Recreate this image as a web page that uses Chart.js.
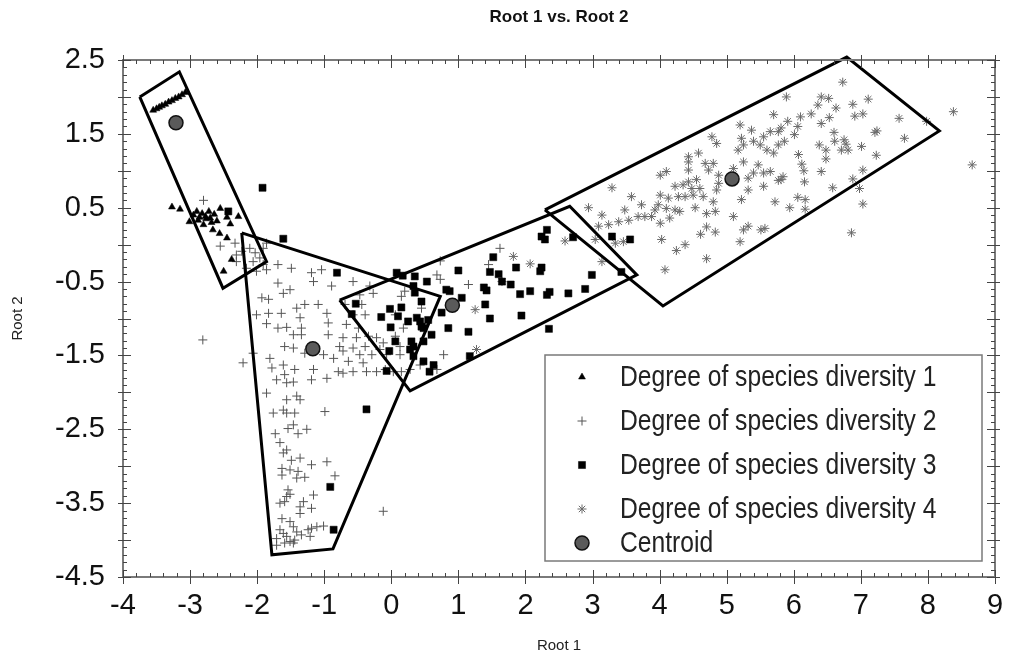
<!DOCTYPE html>
<html>
<head>
<meta charset="utf-8">
<title>Root 1 vs. Root 2</title>
<script src="https://cdn.jsdelivr.net/npm/chart.js@4.4.0/dist/chart.umd.min.js"></script>
<style>
  html, body { margin: 0; padding: 0; background: #fff; }
  #wrap { width: 1016px; height: 660px; }
</style>
</head>
<body>
<div id="wrap"><canvas id="rootChart" width="1016" height="660"></canvas></div>
<script>
const FONT = "'Liberation Sans', Arial, sans-serif";

// discriminant scores [root1, root2] per diversity class
const diversity1 = [
  [-3.55,1.82],[-3.50,1.84],[-3.46,1.86],[-3.42,1.88],[-3.37,1.90],[-3.32,1.93],[-3.27,1.95],[-3.22,1.98],
  [-3.17,2.00],[-3.12,2.03],[-3.07,2.06],
  [-3.27,0.51],[-3.15,0.48],[-3.01,0.31],[-2.95,0.40],[-2.90,0.45],[-2.86,0.37],[-2.82,0.42],[-2.80,0.27],
  [-2.76,0.35],[-2.72,0.45],[-2.88,0.33],[-2.68,0.30],[-2.64,0.41],[-2.60,0.32],[-2.55,0.49],[-2.45,0.37],
  [-2.40,0.28],[-2.28,0.38],[-2.66,0.20],[-2.45,0.09],[-2.56,0.15],[-2.38,-0.20],[-2.50,-0.36],[-2.77,0.38],
  [-2.70,0.36]
];
const diversity2 = [
  [-2.80,0.60],[-2.33,0.02],[-2.23,-0.09],[-2.11,-0.05],[-2.03,-0.11],[-1.96,-0.18],[-2.06,-0.23],[-1.91,-0.27],
  [-1.86,-0.34],[-2.01,-0.36],[-2.16,-0.32],[-2.31,-0.14],[-1.86,0.02],[-1.91,-0.05],[-2.31,-0.23],[-2.55,-0.02],
  [-1.69,-0.27],[-1.49,-0.32],[-1.19,-0.38],[-1.04,-0.34],[-1.16,-0.50],[-0.89,-0.56],[-1.69,-0.52],[-1.51,-0.61],
  [-1.61,-0.66],[-1.93,-0.72],[-1.83,-0.74],[-2.01,-0.95],[-1.83,-0.93],[-1.64,-0.93],[-1.41,-0.86],[-1.29,-0.81],
  [-1.09,-0.81],[-0.96,-0.93],[-1.36,-0.99],[-1.86,-1.07],[-1.69,-1.13],[-1.56,-1.12],[-1.46,-1.22],[-1.34,-1.22],
  [-1.34,-1.13],[-0.94,-1.06],[-0.94,-1.22],[-1.59,-1.38],[-1.46,-1.40],[-1.29,-1.47],[-1.01,-1.49],[-0.86,-1.54],
  [-0.77,-1.38],[-1.81,-1.54],[-2.06,-1.47],[-2.21,-1.60],[-2.81,-1.29],[-1.78,-1.67],[-1.61,-1.63],[-1.59,-1.76],
  [-1.44,-1.69],[-1.71,-1.83],[-1.56,-1.87],[-1.46,-1.86],[-1.16,-1.69],[-1.19,-1.83],[-0.96,-1.81],[-0.79,-1.72],
  [-1.86,-2.01],[-1.56,-2.10],[-1.41,-2.05],[-1.36,-2.10],
  [-1.76,-2.28],[-1.61,-2.24],[-1.56,-2.28],[-1.44,-2.28],[-0.99,-2.26],[-1.46,-2.44],[-1.54,-2.49],[-1.39,-2.56],
  [-1.26,-2.50],[-1.73,-2.56],[-1.66,-2.68],[-1.61,-2.82],[-1.56,-2.78],[-1.49,-2.92],[-1.36,-2.89],[-1.19,-2.98],
  [-0.96,-2.94],[-1.63,-3.03],[-1.51,-3.05],[-1.63,-3.12],[-1.39,-3.07],[-1.41,-3.16],[-1.29,-3.15],[-0.84,-3.13],
  [-1.54,-3.32],[-1.56,-3.41],[-1.51,-3.38],[-1.66,-3.50],[-1.59,-3.48],[-1.31,-3.48],[-1.36,-3.55],[-1.19,-3.57],
  [-1.16,-3.39],[-1.36,-3.64],[-1.63,-3.71],[-1.51,-3.75],[-1.46,-3.82],[-1.66,-3.86],[-1.71,-3.98],[-1.61,-3.91],
  [-1.56,-3.95],[-1.51,-4.02],[-1.44,-4.00],[-1.41,-3.89],[-1.34,-3.93],[-1.21,-3.95],[-1.24,-3.86],[-1.19,-3.84],
  [-1.11,-3.82],[-1.01,-3.81],[-1.71,-4.07],[-1.59,-4.04],[-1.46,-4.04],[-0.12,-3.61],
  [-0.57,-0.50],[-0.32,-0.56],[-0.47,-0.68],[-0.27,-0.66],[-0.69,-0.81],[-0.44,-0.81],[-0.39,-0.95],[-0.57,-0.95],
  [-0.67,-1.08],[-0.49,-1.13],[-0.72,-1.26],[-0.52,-1.26],[-0.34,-1.24],[-0.22,-1.26],[-0.12,-1.33],[-0.39,-1.38],
  [-0.57,-1.40],[-0.72,-1.44],[-0.47,-1.49],[-0.29,-1.49],[-0.17,-1.42],[-0.07,-1.49],[0.13,-1.49],[-0.64,-1.58],
  [-0.42,-1.60],[-0.57,-1.72],[-0.37,-1.72],[-0.22,-1.72],[-0.09,-1.69],[-0.72,-1.74],[0.03,-1.72],[0.15,-1.72],
  [0.28,-1.69],[0.43,-1.63],[0.68,-1.69],[0.15,-0.70],[0.20,-0.63],[0.45,-0.86],[0.06,-0.95],[0.18,-1.13],
  [0.06,-1.24],[0.13,-1.38],[0.78,-1.49],[0.68,-0.41],[0.73,-0.47],[1.15,-0.54],[1.62,-0.05],[1.45,-0.27],
  [0.73,-0.22]
];
const diversity3 = [
  [-1.92,0.77],[-2.43,0.45],[-1.61,0.08],[-0.81,-0.38],[-0.91,-3.28],[-0.86,-3.86],[-0.37,-2.23],
  [0.08,-0.38],[0.17,-0.42],[0.35,-0.43],[0.53,-0.50],[0.82,-0.61],[0.87,-0.63],[1.05,-0.72],[1.00,-0.35],
  [0.33,-0.56],[0.35,-0.65],[0.45,-0.77],[0.15,-0.85],[-0.02,-0.87],[-0.53,-0.80],[-0.59,-0.94],[-0.15,-0.98],
  [0.10,-0.97],[0.25,-1.04],[0.38,-0.99],[0.43,-1.04],[0.55,-1.02],[0.45,-1.11],[0.75,-0.92],[-0.01,-1.12],
  [0.48,-1.13],[0.60,-1.22],[0.85,-1.13],[1.15,-1.18],[0.06,-1.31],[0.30,-1.31],[0.33,-1.38],[0.48,-1.31],
  [-0.03,-1.44],[0.28,-1.42],[0.33,-1.51],[0.48,-1.58],[0.63,-1.63],[-0.07,-1.71],[0.57,-1.72],[1.17,-1.51],
  [1.52,-0.17],[1.47,-0.37],[1.60,-0.40],[1.65,-0.50],[1.38,-0.58],[1.42,-0.62],[1.78,-0.54],[1.86,-0.31],
  [1.92,-0.67],[2.07,-0.63],[2.22,-0.36],[2.24,-0.31],[2.32,-0.68],[2.36,-0.64],[2.24,0.11],[2.29,0.07],
  [2.32,0.20],[1.40,-0.81],[1.47,-1.00],[1.94,-0.96],[2.35,-1.14],
  [2.71,0.10],[3.29,0.11],[3.56,0.07],[2.99,-0.41],[2.89,-0.60],[2.64,-0.66],[3.43,-0.37]
];
const diversity4 = [
  [1.82,-0.16],[2.07,-0.26],[1.65,-0.50],[1.25,-0.88],[1.27,-1.42],[2.59,0.05],[3.04,0.07],[3.34,0.02],
  [3.46,0.04],[3.14,-0.23],[4.03,0.07],[4.25,-0.08],[4.38,0.00],[4.61,0.14],[4.83,0.17],[4.70,-0.19],
  [4.08,-0.34],[5.20,0.04],[5.25,0.20],[5.51,0.20],[6.86,0.16],
  [5.70,1.76],[5.20,1.62],[5.37,1.55],[5.55,1.46],[5.65,1.53],[5.77,1.53],[4.78,1.46],[4.85,1.37],
  [5.22,1.44],[5.25,1.35],[5.40,1.40],[5.50,1.35],[5.60,1.28],[5.70,1.24],[5.77,1.35],[4.58,1.24],
  [4.43,1.19],[5.17,1.28],[5.25,1.12],[4.43,1.12],[4.43,1.01],[4.68,1.10],[4.80,1.10],[4.73,1.01],
  [4.88,0.94],[5.10,1.03],[5.47,1.08],[5.40,0.97],[5.55,0.97],[5.65,0.99],[5.77,0.87],[5.32,0.90],
  [4.01,0.94],[4.10,0.99],[4.43,0.85],[4.55,0.88],[4.23,0.79],[4.35,0.81],[4.48,0.76],[4.60,0.76],
  [4.88,0.83],[4.85,0.74],[3.29,0.77],[5.55,0.79],[5.32,0.74],[5.72,0.58],[5.22,0.61],[3.58,0.65],
  [3.73,0.54],[4.01,0.67],[4.13,0.63],[4.28,0.65],[4.38,0.65],[4.50,0.67],[4.65,0.65],[4.80,0.58],
  [3.98,0.54],[4.10,0.49],[4.23,0.47],[4.30,0.45],[4.53,0.50],[4.70,0.42],[4.83,0.45],[5.10,0.38],
  [5.32,0.25],[5.57,0.22],[2.94,0.50],[3.14,0.40],[3.48,0.47],[3.68,0.38],[3.78,0.38],[3.88,0.38],
  [3.39,0.31],[3.54,0.33],[3.24,0.27],[3.09,0.25],[3.93,0.47],[4.15,0.36],[4.01,0.29],[4.70,0.24],
  [6.73,2.20],[5.89,2.00],[6.41,2.00],[6.52,1.98],[7.11,1.97],[6.36,1.89],[6.63,1.85],[6.88,1.90],
  [6.91,1.74],[7.03,1.77],[6.26,1.77],[6.10,1.73],[6.53,1.72],[5.91,1.67],[6.41,1.64],[6.06,1.60],
  [5.81,1.58],[6.01,1.49],[5.86,1.40],[6.60,1.52],[6.61,1.40],[6.75,1.42],[6.78,1.36],[6.38,1.35],
  [6.48,1.28],[6.71,1.28],[6.81,1.28],[7.01,1.33],[7.21,1.52],[7.24,1.54],[7.57,1.71],[7.65,1.44],
  [7.98,1.67],[8.38,1.80],[8.66,1.08],[7.23,1.21],[6.07,1.22],[6.48,1.16],[6.12,1.09],[6.15,1.00],
  [6.41,0.99],[7.03,1.01],[5.84,0.92],[5.81,0.88],[6.16,0.85],[6.88,0.89],[6.58,0.77],[6.98,0.76],
  [6.06,0.64],[6.17,0.61],[5.94,0.50],[6.17,0.48],[7.03,0.55]
];

// group centroids
const centroidRoot1 = [-3.21, -1.17, 0.91, 5.08];
const centroidRoot2 = [1.65, -1.41, -0.82, 0.89];

// outline of each group (corner points)
const hull1 = [[-3.75,2.00],[-3.16,2.34],[-1.86,-0.23],[-2.51,-0.59]];
const hull2 = [[-2.23,0.16],[0.73,-0.70],[-0.87,-4.12],[-1.78,-4.20]];
const hull3 = [[-0.77,-0.75],[2.66,0.52],[3.66,-0.41],[0.28,-1.98]];
const hull4 = [[2.29,0.47],[6.79,2.54],[8.17,1.54],[4.05,-0.83]];

const xTickValues = [-4, -3, -2, -1, 0, 1, 2, 3, 4, 5, 6, 7, 8, 9];
const yTickValues = [-4.5, -3.5, -2.5, -1.5, -0.5, 0.5, 1.5, 2.5];

const legendLabels = [
  'Degree of species diversity 1',
  'Degree of species diversity 2',
  'Degree of species diversity 3',
  'Degree of species diversity 4',
  'Centroid'
];

const toPoints = arr => arr.map(p => ({ x: p[0], y: p[1] }));
const closed = arr => toPoints(arr.concat([arr[0]]));

function hullSet(arr) {
  return {
    type: 'line', data: closed(arr), showLine: true, fill: false,
    borderColor: '#000', borderWidth: 3, pointRadius: 0, tension: 0, clip: false
  };
}

const centroidSet = {
  data: centroidRoot1.map((x, i) => ({ x: x, y: centroidRoot2[i] })),
  pointStyle: 'circle', pointRadius: 7, backgroundColor: '#5a5a5a', borderColor: '#111', borderWidth: 1.5
};
const set1 = { data: toPoints(diversity1), pointStyle: 'triangle', pointRadius: 4, backgroundColor: '#000', borderColor: '#000', borderWidth: 0.5 };
const set2 = { data: toPoints(diversity2), pointStyle: 'cross', pointRadius: 4.5, backgroundColor: '#555', borderColor: '#555', borderWidth: 1 };
const set3 = { data: toPoints(diversity3), pointStyle: 'rect', pointRadius: 5, backgroundColor: '#000', borderColor: '#000', borderWidth: 0.5 };
const set4 = { data: toPoints(diversity4), pointStyle: 'star', pointRadius: 4.5, backgroundColor: '#6a6a6a', borderColor: '#6a6a6a', borderWidth: 1 };

// frame with inward ticks on all four sides
const frameTicks = {
  id: 'frameTicks',
  afterDatasetsDraw(chart) {
    const { ctx, chartArea: a, scales: { x, y } } = chart;
    ctx.save();
    ctx.strokeStyle = '#7a7a7a';
    ctx.lineWidth = 2;
    ctx.strokeRect(a.left, a.top, a.right - a.left, a.bottom - a.top);
    ctx.strokeStyle = '#444';
    ctx.lineWidth = 1;
    ctx.beginPath();
    for (let i = 0; i <= 65; i++) {
      const v = x.min + i * 0.2;
      const px = Math.round(x.getPixelForValue(v)) + 0.5;
      const major = i % 5 === 0;
      ctx.moveTo(px, a.bottom + (major ? 7 : 0)); ctx.lineTo(px, a.bottom - (major ? 7 : 4));
      ctx.moveTo(px, a.top - (major ? 5 : 0)); ctx.lineTo(px, a.top + (major ? 8 : 4));
    }
    for (let i = 0; i <= 70; i++) {
      const v = y.min + i * 0.1;
      const py = Math.round(y.getPixelForValue(v)) + 0.5;
      const major = i % 5 === 0;
      ctx.moveTo(a.left - (major ? 5 : 0), py); ctx.lineTo(a.left + (major ? 8 : 4), py);
      ctx.moveTo(a.right + (major ? 5 : 0), py); ctx.lineTo(a.right - (major ? 8 : 4), py);
    }
    ctx.stroke();
    ctx.restore();
  }
};

// boxed legend inside the plot, lower right; labels set in a condensed face
const boxLegend = {
  id: 'boxLegend',
  afterDraw(chart) {
    const { ctx } = chart;
    const left = 545, top = 355, right = 982, bottom = 561;
    const rows = [377, 421, 465, 509, 543];
    const styles = [set1, set2, set3, set4, centroidSet];
    ctx.save();
    ctx.fillStyle = '#fff';
    ctx.fillRect(left, top, right - left, bottom - top);
    ctx.strokeStyle = '#7a7a7a';
    ctx.lineWidth = 1.5;
    ctx.strokeRect(left, top, right - left, bottom - top);
    styles.forEach((s, i) => {
      ctx.fillStyle = s.backgroundColor;
      ctx.strokeStyle = s.borderColor;
      ctx.lineWidth = s.borderWidth;
      Chart.helpers.drawPoint(ctx, { pointStyle: s.pointStyle, radius: s.pointRadius, rotation: 0, borderWidth: s.borderWidth }, 582, rows[i]);
      ctx.save();
      ctx.translate(620, rows[i] + 1);
      ctx.scale(0.85, 1);
      ctx.fillStyle = '#222';
      ctx.font = '29px ' + FONT;
      ctx.textBaseline = 'middle';
      ctx.textAlign = 'left';
      ctx.fillText(legendLabels[i], 0, 0);
      ctx.restore();
    });
    ctx.restore();
  }
};

new Chart(document.getElementById('rootChart'), {
  type: 'scatter',
  data: {
    datasets: [centroidSet, hullSet(hull1), hullSet(hull2), hullSet(hull3), hullSet(hull4), set3, set1, set4, set2]
  },
  options: {
    responsive: false,
    animation: false,
    devicePixelRatio: 1,
    layout: { padding: { left: 0, right: 21, top: 0, bottom: 0 } },
    scales: {
      x: {
        type: 'linear', min: -4, max: 9,
        afterBuildTicks: s => { s.ticks = xTickValues.map(v => ({ value: v })); },
        afterFit: s => { s.height = 83; },
        grid: { display: false, drawTicks: false },
        border: { display: false },
        ticks: { color: '#111', padding: 12, font: { family: FONT, size: 29 } },
        title: { display: true, text: 'Root 1', color: '#222', font: { family: FONT, size: 15 }, padding: { top: 0, bottom: 5 } }
      },
      y: {
        type: 'linear', min: -4.5, max: 2.5,
        afterBuildTicks: s => { s.ticks = yTickValues.map(v => ({ value: v })); },
        afterFit: s => { s.width = 123; },
        grid: { display: false, drawTicks: false },
        border: { display: false },
        ticks: { color: '#111', padding: 18, font: { family: FONT, size: 29 }, callback: v => v.toFixed(1) },
        title: { display: true, text: 'Root 2', color: '#222', font: { family: FONT, size: 15 }, padding: { top: 9, bottom: 0 } }
      }
    },
    plugins: {
      legend: { display: false },
      tooltip: { enabled: false },
      title: {
        display: true, text: 'Root 1 vs. Root 2', fullSize: false, color: '#111',
        font: { family: FONT, size: 17, weight: 'bold' },
        padding: { top: 7, bottom: 32.6 }
      }
    }
  },
  plugins: [frameTicks, boxLegend]
});
</script>
</body>
</html>
